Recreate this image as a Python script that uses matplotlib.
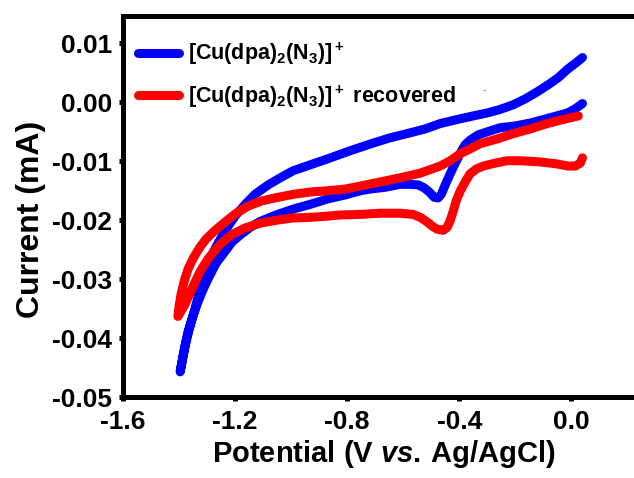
import matplotlib
matplotlib.use('Agg')
import matplotlib.pyplot as plt
from matplotlib.ticker import FormatStrFormatter, FixedLocator

plt.rcParams['font.family'] = ['Liberation Sans', 'DejaVu Sans']
plt.rcParams['font.weight'] = 'bold'
plt.rcParams['axes.unicode_minus'] = False
plt.rcParams['mathtext.fontset'] = 'custom'
plt.rcParams['mathtext.rm'] = 'Liberation Sans:bold'
plt.rcParams['mathtext.bf'] = 'Liberation Sans:bold'
plt.rcParams['mathtext.it'] = 'Liberation Sans:bold:italic'
plt.rcParams['mathtext.default'] = 'bf'

# ---- data (potential in V vs Ag/AgCl, current in mA) ----
# [Cu(dpa)2(N3)]+ : cathodic sweep (0 -> -1.4 V)
blue_cath_x = [0.04, 0.014, -0.014, -0.075, -0.146, -0.200, -0.254, -0.300, -0.332, -0.361,
               -0.379, -0.396, -0.414, -0.432, -0.450, -0.464, -0.475, -0.489, -0.507, -0.525,
               -0.546, -0.575, -0.611, -0.664, -0.718, -0.754, -0.807, -0.871, -0.932, -0.993,
               -1.054, -1.111, -1.146, -1.182, -1.211, -1.236, -1.268, -1.296, -1.314, -1.332,
               -1.350, -1.368, -1.382, -1.396]
blue_cath_y = [-0.0002, -0.0011, -0.0018, -0.0026, -0.0035, -0.0040, -0.0043, -0.0050, -0.0055, -0.0064,
               -0.0072, -0.0086, -0.0103, -0.0121, -0.0140, -0.0156, -0.0162, -0.0161, -0.0152, -0.0145,
               -0.0140, -0.0139, -0.0139, -0.0144, -0.0147, -0.0150, -0.0157, -0.0164, -0.0173, -0.0181,
               -0.0191, -0.0202, -0.0212, -0.0225, -0.0237, -0.0253, -0.0273, -0.0299, -0.0317, -0.0338,
               -0.0362, -0.0389, -0.0420, -0.0457]
# [Cu(dpa)2(N3)]+ : anodic sweep (-1.4 -> 0 V)
blue_anod_x = [-1.396, -1.386, -1.375, -1.361, -1.346, -1.329, -1.307, -1.286, -1.261, -1.232,
               -1.200, -1.164, -1.129, -1.082, -1.039, -0.993, -0.932, -0.871, -0.789, -0.707,
               -0.646, -0.586, -0.521, -0.468, -0.407, -0.350, -0.300, -0.254, -0.207, -0.164,
               -0.121, -0.082, -0.046, -0.014, 0.014, 0.04]
blue_anod_y = [-0.0457, -0.0432, -0.0406, -0.0380, -0.0355, -0.0324, -0.0290, -0.0261, -0.0239, -0.0215,
               -0.0193, -0.0173, -0.0156, -0.0140, -0.0128, -0.0116, -0.0106, -0.0096, -0.0082, -0.0069,
               -0.0060, -0.0053, -0.0045, -0.0036, -0.0029, -0.0023, -0.0018, -0.0012, -0.0004, 0.0006,
               0.0018, 0.0030, 0.0042, 0.0056, 0.0066, 0.0076]

# [Cu(dpa)2(N3)]+ recovered : cathodic sweep
red_cath_x = [0.04, 0.032, 0.014, -0.011, -0.057, -0.111, -0.182, -0.229, -0.271, -0.314,
              -0.339, -0.361, -0.379, -0.396, -0.411, -0.421, -0.432, -0.443, -0.457, -0.479,
              -0.496, -0.514, -0.539, -0.564, -0.611, -0.682, -0.754, -0.825, -0.871, -0.932,
              -0.993, -1.054, -1.111, -1.164, -1.211, -1.254, -1.296, -1.325, -1.350, -1.379,
              -1.404]
red_cath_y = [-0.0094, -0.0103, -0.0108, -0.0108, -0.0104, -0.0101, -0.0099, -0.0099, -0.0103, -0.0108,
              -0.0113, -0.0121, -0.0135, -0.0150, -0.0167, -0.0184, -0.0200, -0.0212, -0.0217, -0.0215,
              -0.0210, -0.0203, -0.0195, -0.0190, -0.0188, -0.0188, -0.0190, -0.0191, -0.0193, -0.0195,
              -0.0196, -0.0200, -0.0205, -0.0213, -0.0224, -0.0241, -0.0265, -0.0287, -0.0312, -0.0343,
              -0.0363]
# [Cu(dpa)2(N3)]+ recovered : anodic sweep
red_anod_x = [-1.404, -1.400, -1.393, -1.382, -1.368, -1.350, -1.329, -1.304, -1.271, -1.236,
              -1.196, -1.154, -1.104, -1.057, -0.993, -0.932, -0.871, -0.807, -0.754, -0.682,
              -0.611, -0.539, -0.468, -0.432, -0.396, -0.361, -0.325, -0.264, -0.207, -0.146,
              -0.086, -0.029, 0.025]
red_anod_y = [-0.0363, -0.0346, -0.0326, -0.0304, -0.0283, -0.0265, -0.0248, -0.0232, -0.0217, -0.0203,
              -0.0188, -0.0176, -0.0167, -0.0162, -0.0156, -0.0152, -0.0150, -0.0147, -0.0142, -0.0135,
              -0.0128, -0.0120, -0.0108, -0.0099, -0.0087, -0.0079, -0.0070, -0.0062, -0.0053, -0.0045,
              -0.0036, -0.0029, -0.0023]

labels = [r'[Cu(dpa)$_2$(N$_3$)]$^+$', r'[Cu(dpa)$_2$(N$_3$)]$^+$ recovered']
colors = ['#0000ff', '#ff0000']
xticks = [-1.6, -1.2, -0.8, -0.4, 0.0]
yticks = [-0.05, -0.04, -0.03, -0.02, -0.01, 0.00, 0.01]

fig = plt.figure(figsize=(6.34, 4.78), dpi=100)
ax = fig.add_axes([0.194, 0.169, 0.822, 0.797])

ax.plot(blue_cath_x + blue_anod_x, blue_cath_y + blue_anod_y, color=colors[0], lw=6.5,
        solid_capstyle='round', solid_joinstyle='round', label=labels[0])
ax.plot(red_cath_x + red_anod_x, red_cath_y + red_anod_y, color=colors[1], lw=6.5,
        solid_capstyle='round', solid_joinstyle='round', label=labels[1])

ax.set_xlim(-1.6, 0.26)
ax.set_ylim(-0.05, 0.0146)
ax.xaxis.set_major_locator(FixedLocator(xticks))
ax.yaxis.set_major_locator(FixedLocator(yticks))
ax.xaxis.set_major_formatter(FormatStrFormatter('%.1f'))
ax.yaxis.set_major_formatter(FormatStrFormatter('%.2f'))

for s in ax.spines.values():
    s.set_linewidth(3.6)
ax.tick_params(direction='out', length=3, width=3.6, labelsize=19)
ax.tick_params(axis='x', pad=6)
ax.tick_params(axis='y', pad=5)
for lab in ax.get_xticklabels() + ax.get_yticklabels():
    lab.set_fontweight('bold')

ax.set_xlabel(r'Potential (V $\mathit{vs.}\,$Ag/AgCl)', fontsize=21, fontweight='bold', labelpad=3)
ax.set_ylabel('Current (mA)', fontsize=23, fontweight='bold', labelpad=4)
ax.yaxis.label.set_y(0.467)

leg = ax.legend(loc='upper left', bbox_to_anchor=(0.0, 0.975), frameon=False, fontsize=15.5,
                handlelength=1.9, handletextpad=0.4, labelspacing=0.75, borderaxespad=0.3)
for t in leg.get_texts():
    t.set_fontweight('bold')

ax.text(0.69, 0.795, '-', transform=ax.transAxes, color='#999999', fontsize=8)

fig.savefig('out.png', dpi=100)
